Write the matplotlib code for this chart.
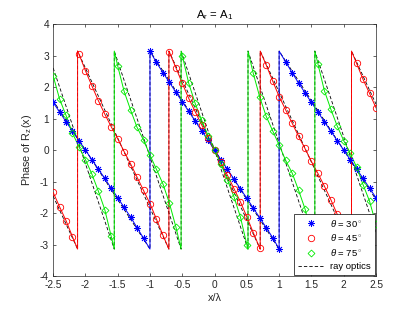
import matplotlib
matplotlib.use('Agg')
import matplotlib.pyplot as plt
from matplotlib.lines import Line2D
import numpy as np

plt.rcParams['font.family'] = ['Liberation Sans', 'DejaVu Sans']
plt.rcParams['mathtext.fontset'] = 'custom'
plt.rcParams['mathtext.rm'] = 'Liberation Sans'
plt.rcParams['mathtext.it'] = 'Liberation Sans:italic'
plt.rcParams['axes.unicode_minus'] = False

# sample positions of the markers (x / lambda)
x_pts = np.linspace(-2.5, 2.5, 51)

# phase at each sample
phase_30 = [1.51, 1.21, 0.90, 0.60, 0.30, 0.00, -0.30, -0.60, -0.90, -1.21,
            -1.51, -1.82, -2.13, -2.46, -2.80,
            3.14, 2.78, 2.46, 2.15, 1.84, 1.53, 1.23, 0.92, 0.61, 0.31,
            0.00, -0.31, -0.61, -0.92, -1.23, -1.53, -1.84, -2.15, -2.46, -2.78,
            -3.14,
            2.80, 2.46, 2.13, 1.82, 1.51, 1.21, 0.90, 0.60, 0.30, 0.00,
            -0.30, -0.60, -0.90, -1.21, -1.51]
phase_45 = [-1.34, -1.80, -2.24, -2.75,
            3.05, 2.52, 2.04, 1.57, 1.14, 0.74, 0.36, -0.05, -0.44, -0.86,
            -1.28, -1.70, -2.19, -2.70,
            3.11, 2.62, 2.12, 1.64, 1.22, 0.80, 0.39, 0.00, -0.39, -0.80,
            -1.22, -1.64, -2.12, -2.62, -3.11,
            2.70, 2.19, 1.70, 1.28, 0.86, 0.44, 0.05, -0.36, -0.74, -1.14,
            -1.57, -2.04, -2.52, -3.05,
            2.75, 2.24, 1.80, 1.34]
phase_75 = [2.36, 1.62, 1.10, 0.54, 0.10, -0.30, -0.76, -1.30, -1.89, -2.74,
            2.67, 1.86, 1.27, 0.72, 0.32, -0.16, -0.61, -1.07, -1.68, -2.43,
            3.00, 2.12, 1.48, 0.95, 0.45, 0.00, -0.45, -0.95, -1.48, -2.12,
            -3.00,
            2.43, 1.68, 1.07, 0.61, 0.16, -0.32, -0.72, -1.27, -1.86, -2.67,
            2.74, 1.89, 1.30, 0.76, 0.30, -0.10, -0.54, -1.10, -1.62, -2.36]

# positions of the 2*pi wraps
jumps_30 = [-1.0, 1.0]
jumps_45 = [-2.121, -0.707, 0.707, 2.121]
jumps_75 = [-1.553, -0.518, 0.518, 1.553]

# ray optics sawtooth vertices
ray_30_x = [-2.5, -1.0, -1.0, 1.0, 1.0, 2.5]
ray_30_y = [1.571, -3.1416, 3.1416, -3.1416, 3.1416, -1.571]
ray_45_x = [-2.5, -2.121, -2.121, -0.707, -0.707, 0.707, 0.707, 2.121, 2.121, 2.5]
ray_45_y = [-1.459, -3.1416, 3.1416, -3.1416, 3.1416, -3.1416, 3.1416,
            -3.1416, 3.1416, 1.459]
ray_75_x = [-2.5, -1.553, -1.553, -0.518, -0.518, 0.518, 0.518, 1.553, 1.553, 2.5]
ray_75_y = [2.607, -3.1416, 3.1416, -3.1416, 3.1416, -3.1416, 3.1416,
            -3.1416, 3.1416, -2.607]

labels = [r'$\theta$ = 30$^\circ$', r'$\theta$ = 45$^\circ$',
          r'$\theta$ = 75$^\circ$', 'ray optics']


def with_jumps(xs, ys, jumps):
    # put the vertical wrap lines in between the samples
    lx, ly = [xs[0]], [ys[0]]
    for i in range(1, len(xs)):
        if ys[i] > ys[i - 1]:
            for xj in jumps:
                if xs[i - 1] <= xj <= xs[i]:
                    lx += [xj, xj]
                    ly += [-np.pi, np.pi]
        lx.append(xs[i])
        ly.append(ys[i])
    return lx, ly


blue = (0, 0, 1)
red = (1, 0, 0)
green = (0, 0.92, 0)

fig = plt.figure(figsize=(4.15, 3.12), dpi=100)
ax = fig.add_axes([0.128, 0.115, 0.778, 0.808])

# ray optics underneath
for rx, ry in [(ray_30_x, ray_30_y), (ray_45_x, ray_45_y), (ray_75_x, ray_75_y)]:
    ax.plot(rx, ry, color='k', ls=(0, (4, 2.5)), lw=0.6, zorder=2)

for ys, jumps, col in [(phase_30, jumps_30, blue), (phase_45, jumps_45, red),
                       (phase_75, jumps_75, green)]:
    lx, ly = with_jumps(x_pts, ys, jumps)
    ax.plot(lx, ly, color=col, lw=0.7, zorder=3)

ax.plot(x_pts, phase_30, ls='none', marker=(8, 2, 0), ms=5, mec=blue,
        mew=0.6, zorder=4)
ax.plot(x_pts, phase_45, ls='none', marker='o', ms=4.6, mfc='none', mec=red,
        mew=0.6, zorder=4)
ax.plot(x_pts, phase_75, ls='none', marker='D', ms=3.5, mfc='none', mec=green,
        mew=0.6, zorder=4)

ax.set_xlim(-2.5, 2.5)
ax.set_ylim(-4, 4)
ax.set_xticks(np.arange(-2.5, 2.51, 0.5))
ax.set_xticklabels(['-2.5', '-2', '-1.5', '-1', '-0.5', '0', '0.5', '1',
                    '1.5', '2', '2.5'])
ax.set_yticks(np.arange(-4, 5, 1))

gray = (0.15, 0.15, 0.15)
ax.tick_params(direction='in', top=True, right=True, length=2.5, width=0.5,
               labelsize=7.3, colors=gray, pad=3)
for sp in ax.spines.values():
    sp.set_linewidth(0.5)
    sp.set_color(gray)

ax.set_title('A$_\\mathrm{r}$ = A$_\\mathrm{1}$', fontsize=8.2, color='k', pad=4)
ax.set_xlabel('x/λ', fontsize=7.8, color=gray, labelpad=2)
ax.set_ylabel('Phase of R$_\\mathrm{z}$(x)', fontsize=7.8, color=gray, labelpad=4)

handles = [
    Line2D([], [], ls='none', marker=(8, 2, 0), ms=5, mec=blue, mew=0.6),
    Line2D([], [], ls='none', marker='o', ms=4.6, mfc='none', mec=red, mew=0.6),
    Line2D([], [], ls='none', marker='D', ms=3.5, mfc='none', mec=green, mew=0.6),
    Line2D([], [], color='k', ls=(0, (4, 2.5)), lw=0.6),
]
leg = ax.legend(handles, labels, loc='lower right', fontsize=6.8,
                frameon=True, fancybox=False, borderaxespad=0.15,
                handlelength=2.8, handletextpad=0.6, labelspacing=0.4,
                borderpad=0.4)
leg.get_frame().set_edgecolor('k')
leg.get_frame().set_linewidth(0.5)
leg.get_frame().set_alpha(1)
leg.set_zorder(10)

fig.savefig('out.png', dpi=100)
